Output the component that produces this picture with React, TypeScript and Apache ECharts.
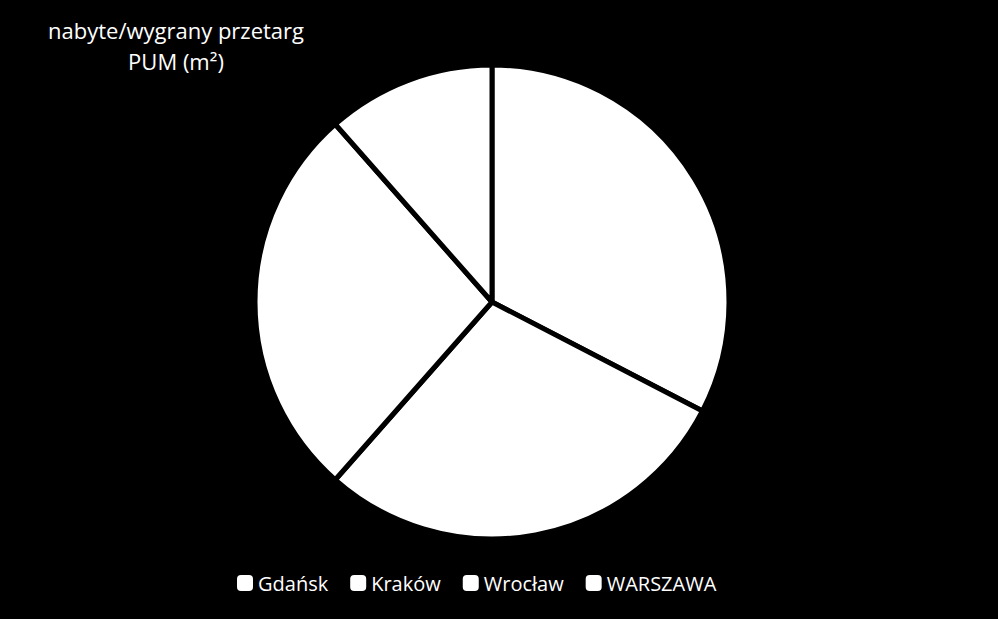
import React, { useEffect, useRef } from "react";
import * as echarts from "echarts";

const categories = ["Gdańsk", "Kraków", "Wrocław", "WARSZAWA"];
const values = [32.6, 28.9, 27.0, 11.5];
const titleLines = ["nabyte/wygrany przetarg", "PUM (m²)"];

export default function App() {
  const ref = useRef<HTMLDivElement>(null);
  useEffect(() => {
    if (!ref.current) return;
    const chart = echarts.init(ref.current, null, { renderer: "svg" });
    chart.setOption({
      animation: false,
      backgroundColor: "#000",
      title: {
        text: titleLines.join("\n"),
        left: 176,
        top: 14,
        padding: 0,
        textAlign: "center",
        textStyle: {
          color: "#fff",
          fontSize: 22,
          fontWeight: "normal",
          fontFamily: "Open Sans",
          lineHeight: 31,
        },
      },
      legend: {
        data: categories,
        left: 237,
        top: 573,
        padding: 0,
        icon: "roundRect",
        itemWidth: 16,
        itemHeight: 16,
        itemGap: 22,
        itemStyle: { borderWidth: 0, color: "#fff" },
        textStyle: { color: "#fff", fontSize: 20, fontFamily: "Open Sans" },
      },
      series: [
        {
          type: "pie",
          center: [492, 302],
          radius: 237,
          startAngle: 90,
          clockwise: true,
          label: { show: false },
          labelLine: { show: false },
          emphasis: { disabled: true },
          itemStyle: { color: "#fff", borderColor: "#000", borderWidth: 5 },
          data: categories.map((name, i) => ({ name, value: values[i] })),
        },
      ],
    });
    return () => chart.dispose();
  }, []);
  return (
    <div
      ref={ref}
      style={{ position: "fixed", left: 0, top: 0, width: 998, height: 619 }}
    />
  );
}
